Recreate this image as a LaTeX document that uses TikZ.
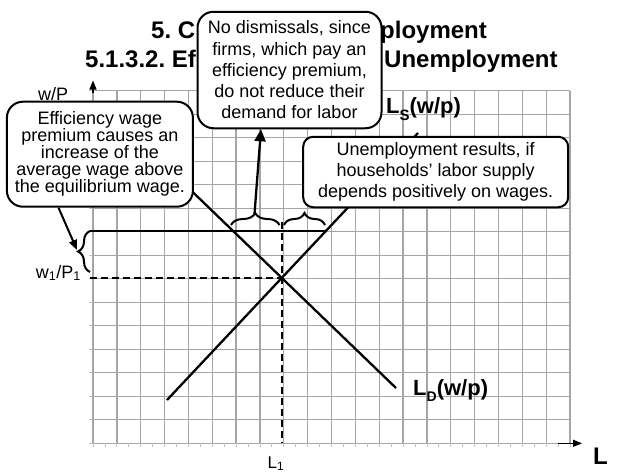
\documentclass[tikz,border=0pt]{standalone}
\usepackage{fontspec}
\setmainfont{Liberation Sans}
\usetikzlibrary{arrows.meta,decorations.pathreplacing}
\definecolor{gridgray}{RGB}{165,165,165}
\frenchspacing
\begin{document}
\begin{tikzpicture}[x=1pt,y=-1pt,
  gridline/.style={draw=gridgray,line width=1.3pt},
  tickmark/.style={draw=gridgray!70,line width=0.8pt},
  curve/.style={line width=2.3pt},
  dashline/.style={line width=2pt,dash pattern=on 7pt off 4pt},
  callout/.style={draw,line width=2pt,fill=white,align=center,inner sep=0pt},
  bracestyle/.style={line width=2pt,decorate,decoration={brace,amplitude=12pt}},
  axisarrow/.style={line width=1.3pt,-{Triangle[length=9pt,width=7pt]}},
  plain/.style={inner sep=0pt,font=\fontsize{18}{21}\selectfont},
  boldlabel/.style={inner sep=0pt,font=\fontsize{22}{26}\selectfont\bfseries},
  titlefont/.style={inner sep=0pt,font=\fontsize{24}{28}\selectfont\bfseries}
]
\useasboundingbox (0,0) rectangle (640,472);
\fill[white] (0,0) rectangle (640,472);
% grid
\foreach \k in {0,...,20} {\draw[gridline] (93+23.85*\k,90.7) -- (93+23.85*\k,443.3);}
\foreach \k in {0,...,15} {\draw[gridline] (93,90.7+23.5*\k) -- (570,90.7+23.5*\k);}
% small axis ticks
\foreach \k in {0,...,15} {\draw[tickmark] (89,90.7+23.5*\k) -- (93,90.7+23.5*\k);}
\foreach \k in {0,...,40} {\draw[tickmark] (93+11.925*\k,443.3) -- (93+11.925*\k,447);}
% axes arrows
\coordinate (yaxbase) at (93,93);
\coordinate (yaxtip) at (93,80.5);
\coordinate (xaxbase) at (558,443.3);
\coordinate (xaxtip) at (582,443.3);
\draw[axisarrow,draw=black] (yaxbase) -- (yaxtip);
\draw[axisarrow,draw=black] (xaxbase) -- (xaxtip);
% key points
\coordinate (E) at (282,278);
\coordinate (lsA) at (167,400);
\coordinate (lsB) at (418,133);
\coordinate (ldA) at (175,175);
\coordinate (ldB) at (396,388);
\coordinate (wl) at (90,278);
\coordinate (dtop) at (282,222);
\coordinate (dbot) at (282,443.3);
\coordinate (hl) at (90,231);
\coordinate (hr) at (327,231);
% dashed lines
\draw[dashline] (wl) -- (E);
\draw[dashline] (dtop) -- (dbot);
% curves
\draw[curve] (lsA) -- (lsB);
\draw[curve] (ldA) -- (ldB);
\draw[curve] (hl) -- (hr);
% braces
\coordinate (lbB) at (90,272);
\coordinate (lbT) at (90,231);
\coordinate (b1L) at (231,225);
\coordinate (b1R) at (279.5,225);
\coordinate (b2L) at (284,225);
\coordinate (b2R) at (325,225);
\draw[bracestyle] (lbB) -- (lbT);
\draw[bracestyle] (b1L) -- (b1R);
\draw[bracestyle] (b2L) -- (b2R);
\coordinate (lbtip) at (77,250);
\coordinate (b1tip) at (254.5,214);
% title (visible parts; the middle is covered by the callout)
\node[titlefont,anchor=base west] (t1a) at (151,38.5) {5. C};
\node[titlefont,anchor=base west] (t1b) at (380,38.5) {ployment};
\node[titlefont,anchor=base west] (t2a) at (85,67) {5.1.3.2. Ef};
\node[titlefont,anchor=base west] (t2b) at (384,67) {Unemployment};
% labels
\node[plain,anchor=base west] (wp) at (38,100) {w/P};
\node[plain,anchor=base east] (w1) at (81,278) {w\textsubscript{1}/P\textsubscript{1}};
\node[plain,anchor=base,font=\fontsize{17}{20}\selectfont] (L1) at (276,468) {L\textsubscript{1}};
\node[boldlabel,anchor=base west] (LS) at (386,113) {L\raisebox{-7pt}{\fontsize{15}{15}\selectfont S}(w/p)};
\node[boldlabel,anchor=base west] (LD) at (413,395.7) {L\raisebox{-6pt}{\fontsize{14}{14}\selectfont D}(w/p)};
\node[titlefont,anchor=base west] (Lax) at (593,464) {L};
% callouts
\node[callout,rounded corners=16pt,minimum width=186pt,minimum height=105pt,
  font=\fontsize{18}{17}\selectfont] (eff) at (99.9,154.2)
  {Efficiency wage\\premium causes an\\increase of the\\average wage above\\the equilibrium wage.};
\node[callout,rounded corners=16pt,minimum width=184pt,minimum height=116.5pt,
  font=\fontsize{18}{21.25}\selectfont] (nodis) at (289.5,70)
  {No dismissals, since\\firms, which pay an\\efficiency premium,\\do not reduce their\\demand for labor};
\node[callout,rounded corners=10pt,minimum width=265pt,minimum height=70.5pt,
  font=\fontsize{18}{21.3}\selectfont] (unemp) at (435.7,172)
  {Unemployment results, if\\households' labor supply\\depends positively on wages.};
% arrows
\draw[line width=2pt,-{Triangle[length=10pt,width=8pt]}] (eff.south west) ++(52.6,0) coordinate (effout) -- (lbtip);
\draw[line width=2.3pt,-{Triangle[length=12pt,width=11pt]}] (b1tip) -- (nodis.south -| 261,0);
\end{tikzpicture}
\end{document}
